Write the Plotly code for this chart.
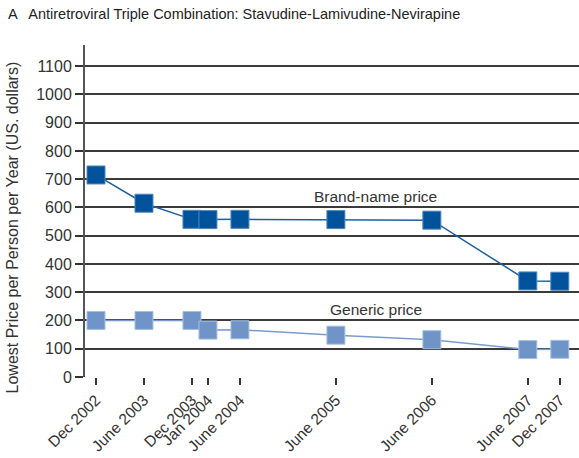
import plotly.graph_objects as go

# Months since Dec 2002 (positions as drawn on the original axis)
x_months = [0, 6, 12, 14, 18, 30, 42, 54, 58]
tick_labels = ["Dec 2002", "June 2003", "Dec 2003", "Jan 2004", "June 2004",
               "June 2005", "June 2006", "June 2007", "Dec 2007"]
brand_price = [715, 615, 558, 557, 558, 557, 555, 340, 339]
generic_price = [200, 200, 200, 166, 167, 148, 132, 97, 98]

FONT = "Liberation Sans, Arial, sans-serif"

fig = go.Figure()
fig.add_trace(go.Scatter(
    x=x_months, y=brand_price, mode="lines+markers", name="Brand-name price",
    line=dict(color="#1a5fa0", width=1.5),
    marker=dict(symbol="square", size=18, color="#00539b",
                line=dict(color="#4f86bf", width=1)),
))
fig.add_trace(go.Scatter(
    x=x_months, y=generic_price, mode="lines+markers", name="Generic price",
    line=dict(color="#7a9ccd", width=1.5),
    marker=dict(symbol="square", size=18, color="#7094c8",
                line=dict(color="#a6c0e2", width=1)),
))

fig.add_annotation(x=35, y=640, text="Brand-name price", showarrow=False,
                   font=dict(family=FONT, size=15.5, color="#333333"))
fig.add_annotation(x=35, y=240, text="Generic price", showarrow=False,
                   font=dict(family=FONT, size=15.5, color="#333333"))
# Y-axis title (placed as rotated text to match original vertical centring)
fig.add_annotation(xref="paper", yref="paper", x=-0.146, y=0.45,
                   text="Lowest Price per Person per Year (US. dollars)",
                   textangle=-90, showarrow=False, xanchor="center", yanchor="middle",
                   font=dict(family=FONT, size=16, color="#333333"))

fig.update_layout(
    width=579, height=458,
    margin=dict(l=85, r=0, t=45, b=81),
    paper_bgcolor="white", plot_bgcolor="white",
    showlegend=False,
    font=dict(family=FONT, size=15.5, color="#333333"),
    title=dict(text="A   Antiretroviral Triple Combination: Stavudine-Lamivudine-Nevirapine",
               x=0.014, xanchor="left", y=0.97, yanchor="middle",
               font=dict(family=FONT, size=14.5, color="#222222")),
    xaxis=dict(
        range=[-1.375, 60.4], tickmode="array", tickvals=x_months,
        ticktext=tick_labels, tickangle=-45, ticks="outside", ticklen=7,
        tickwidth=1.5, tickcolor="#333333", showgrid=False, zeroline=False,
        showline=False, tickfont=dict(size=15.5, color="#333333"),
        automargin=False,
    ),
    yaxis=dict(
        range=[0, 1175], tickmode="array",
        tickvals=list(range(0, 1101, 100)),
        ticks="outside", ticklen=8, tickwidth=2, tickcolor="#333333",
        showgrid=True, gridcolor="#3a3a3a", gridwidth=1.5, zeroline=False,
        showline=True, linecolor="#555555", linewidth=2,
        tickfont=dict(size=16, color="#333333"),
        automargin=False,
    ),
)

fig.write_html("out.html", config={"displayModeBar": False},
               post_script="document.body.style.margin='0';document.body.style.padding='0';")
